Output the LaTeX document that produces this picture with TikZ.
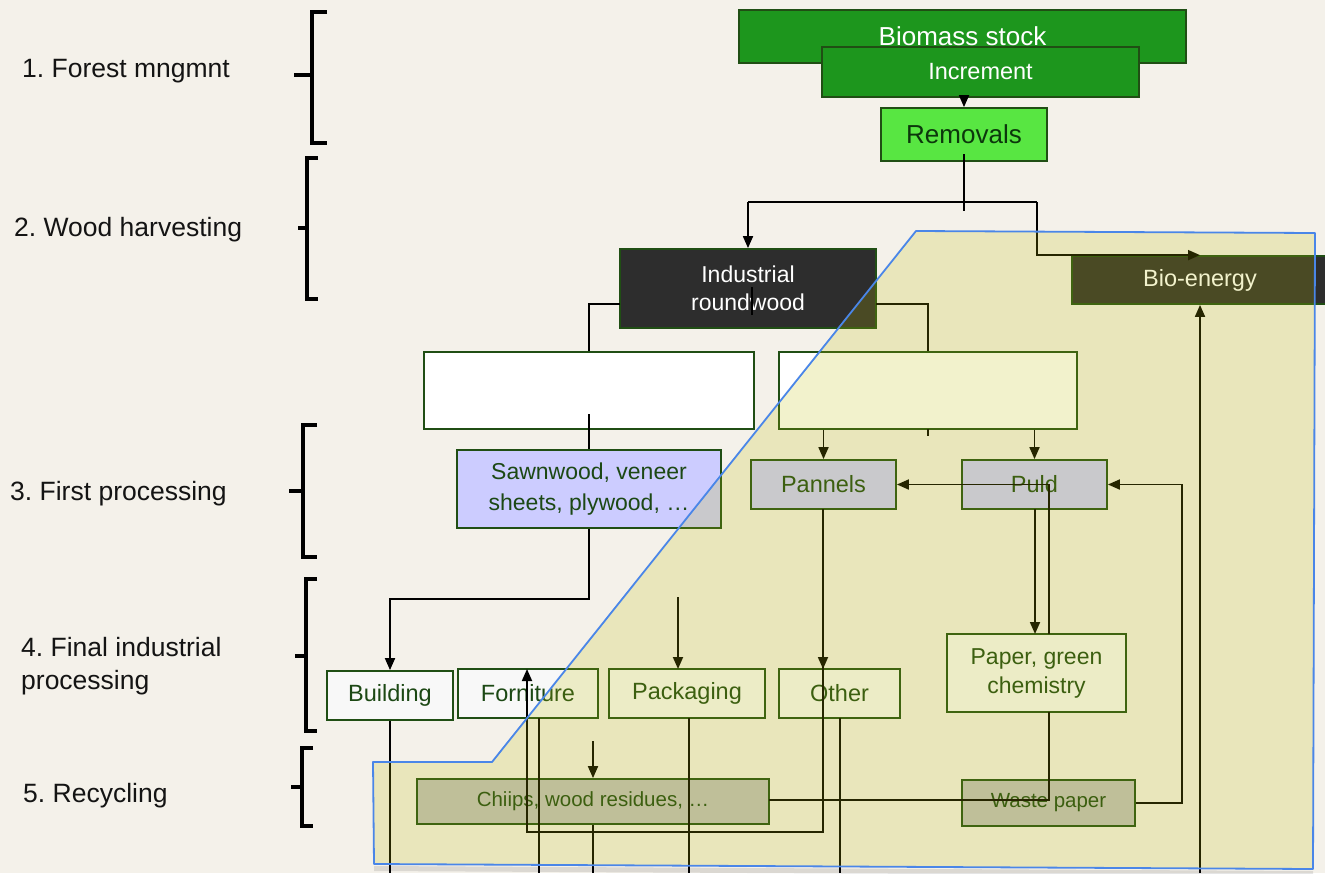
\documentclass[tikz,border=0pt]{standalone}
\usepackage{fontspec}
\setmainfont{Liberation Sans}
\usetikzlibrary{arrows.meta}
\frenchspacing
\definecolor{bg}{RGB}{244,241,234}
\definecolor{dkg}{RGB}{32,78,20}
\definecolor{bstock}{RGB}{29,150,29}
\definecolor{remg}{RGB}{88,230,66}
\definecolor{remtxt}{RGB}{12,55,12}
\definecolor{darkbox}{RGB}{45,45,45}
\definecolor{lav}{RGB}{204,204,255}
\definecolor{nw}{RGB}{248,248,248}
\definecolor{grb}{RGB}{192,192,192}
\definecolor{olv}{RGB}{190,190,0}
\definecolor{gblue}{RGB}{74,134,232}
\definecolor{txtg}{RGB}{28,72,20}
\definecolor{labtxt}{RGB}{20,20,20}
\newcommand\myfs[2]{\fontsize{#1}{#2}\selectfont}
\begin{document}
\begin{tikzpicture}[x=1pt,y=-1pt,
 box/.style={draw=dkg,line width=1.8pt,inner sep=0pt,align=center,text=txtg,font=\myfs{23.5}{29}},
 conn/.style={line width=1.8pt,black},
 arr/.style={conn,-{Triangle[length=12pt,width=10pt]}},
 brk/.style={line width=3.6pt,black},
 lab/.style={anchor=west,align=left,inner sep=0pt,text=labtxt,font=\myfs{26.5}{33}}]
\useasboundingbox (0,0) rectangle (1325,873);
\fill[bg] (0,0) rectangle (1325,873);

% stage labels and brackets
\node[lab] (l1) at (22,71) {1. Forest mngmnt};
\node[lab] (l2) at (14,230) {2. Wood harvesting};
\node[lab] (l3) at (10,494) {3. First processing};
\node[lab] (l4) at (21,666.5) {4. Final industrial\\processing};
\node[lab] (l5) at (23,796) {5. Recycling};
\draw[brk] (327,12) -- (312,12) -- (312,143) -- (327,143) (294,75) -- (312,75);
\draw[brk] (318,158) -- (307,158) -- (307,299) -- (318,299) (298,228) -- (307,228);
\draw[brk] (317,425) -- (303,425) -- (303,557) -- (317,557) (289,491) -- (303,491);
\draw[brk] (317,579) -- (306,579) -- (306,731) -- (317,731) (295,656) -- (306,656);
\draw[brk] (313,748) -- (302,748) -- (302,826) -- (313,826) (291,787) -- (302,787);

% boxes
\node[box,fill=bstock,text=white,font=\myfs{26}{30},minimum width=447pt,minimum height=53pt] (stock) at (962.5,36.5) {Biomass stock};
\node[box,fill=bstock,text=white,minimum width=317pt,minimum height=50pt] (inc) at (980.5,72) {Increment};
\node[box,fill=remg,text=remtxt,font=\myfs{26}{30},minimum width=166pt,minimum height=53pt] (rem) at (964,134.5) {Removals};
\node[box,fill=darkbox,text=white,font=\myfs{23}{28},minimum width=256pt,minimum height=79pt] (ind) at (748,288.5) {Industrial\\roundwood};
\node[box,fill=darkbox,text=white,minimum width=256pt,minimum height=48pt] (bio) at (1200,280) {Bio-energy};
\node[box,fill=white,minimum width=330pt,minimum height=77pt] (w1) at (589,390.5) {};
\node[box,fill=white,minimum width=298pt,minimum height=77pt] (w2) at (928,390.5) {};
\node[box,fill=lav,font=\myfs{23}{31},minimum width=264pt,minimum height=78pt] (saw) at (589,489) {Sawnwood, veneer\\sheets, plywood, …};
\node[box,fill=lav,minimum width=145pt,minimum height=49pt] (pan) at (823.5,484.5) {Pannels};
\node[box,fill=lav,minimum width=145pt,minimum height=49pt] (puld) at (1034.5,484.5) {Puld};
\node[box,fill=nw,minimum width=126pt,minimum height=49pt] (bld) at (390,695.5) {Building};
\node[box,fill=nw,minimum width=140pt,minimum height=49pt] (forn) at (528,693.5) {Forniture};
\node[box,fill=nw,minimum width=156pt,minimum height=49pt] (pack) at (687,693.5) {Packaging};
\node[box,fill=nw,minimum width=121pt,minimum height=49pt] (oth) at (839.5,693.5) {Other};
\node[box,fill=nw,font=\myfs{23}{29},minimum width=179pt,minimum height=78pt] (pap) at (1036.5,673) {Paper, green\\chemistry};
\node[box,fill=grb,font=\myfs{20.5}{24},minimum width=352pt,minimum height=45pt] (chips) at (593,801.5) {Chiips, wood residues, …};
\node[box,fill=grb,font=\myfs{20.5}{24},minimum width=173pt,minimum height=46pt] (wst) at (1048.5,803) {Waste paper};

% free ends
\coordinate (e1) at (390,873);
\coordinate (e2) at (539,873);
\coordinate (e3) at (593,873);
\coordinate (e4) at (689,873);
\coordinate (e5) at (840,873);
\coordinate (e6) at (1200,873);
\coordinate (s1) at (678,597);
\coordinate (s2) at (593,741);

% connectors
\draw[arr] (rem.north |- inc.south) -- (rem.north);
\draw[conn] (964,154) -- (964,211);
\draw[conn] (1037,202) -- (748,202);
\draw[arr] (748,202) -- (ind.north);
\draw[arr] (1037,202) |- (bio.north);
\draw[line width=1.3pt,black] (752,287) -- (752,315);
\draw[conn] (620,304) -- (589,304) -- (w1.north);
\draw[conn] (876,304) -- (928,304) -- (w2.north);
\draw[conn] (589,414) -- (saw.north);
\draw[arr] (pan.north |- w2.south) -- (pan.north);
\draw[arr] (puld.north |- w2.south) -- (puld.north);
\draw[conn] (928,429) -- (928,436);
\draw[arr] (saw.south) -- (589,599) -- (390,599) -- (bld.north);
\draw[arr] (823,509) -- (823,669);
\draw[arr] (823,509) -- (823,832) -- (527,832) -- (527,669);
\draw[arr] (s1) -- (678,669);
\draw[arr] (s2) -- (chips.north);
\draw[conn] (bld.south) -- (e1);
\draw[conn] (539,718) -- (e2);
\draw[conn] (chips.south) -- (e3);
\draw[conn] (689,718) -- (e4);
\draw[conn] (840,718) -- (e5);
\draw[arr] (1035,509) -- (1035,634);
\draw[conn] (1049,634) -- (1049,484);
\draw[arr] (1049,484.5) -- (pan.east);
\draw[conn] (1049,712) -- (1049,800) -- (769,800);
\draw[arr] (wst.east) -- (1182,803) -- (1182,484.5) -- (puld.east);
\draw[arr] (e6) -- (bio.south);

% shadow and overlay
\fill[black,opacity=0.10] (374,866) -- (1313,871) -- (1313,876) -- (374,871) -- cycle;
\filldraw[fill=olv,fill opacity=0.2,draw=gblue,line width=1.8pt,line join=round] (374,864) -- (373,762) -- (492,762) -- (916,231) -- (1315,233) -- (1313,869) -- cycle;
\end{tikzpicture}
\end{document}
